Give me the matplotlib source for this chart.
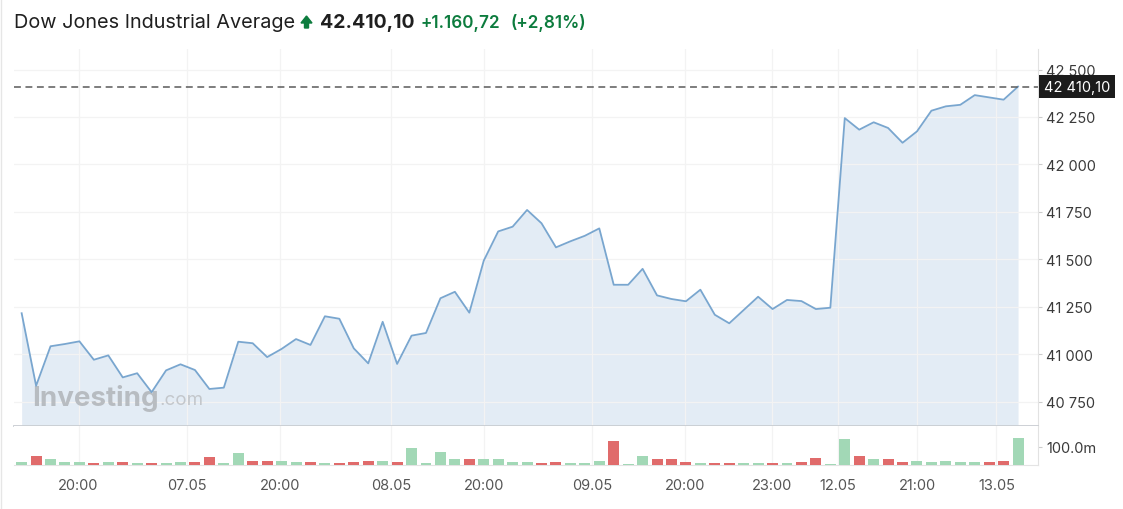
import numpy as np
import matplotlib
matplotlib.use("Agg")
import matplotlib.pyplot as plt
from matplotlib.patches import Polygon
import matplotlib.transforms as mtransforms

plt.rcParams["font.family"] = ["Inter", "DejaVu Sans"]

# ---------------------------------------
# DATA
# ---------------------------------------
prices = [
    41216, 40834, 41042, 41054, 41068, 40971, 40994, 40878, 40900, 40800,
    40915, 40947, 40917, 40817, 40824, 41066, 41058, 40985, 41028, 41080,
    41049, 41200, 41187, 41031, 40952, 41171, 40949, 41098, 41112, 41295,
    41329, 41219, 41493, 41647, 41672, 41760, 41690, 41563, 41595, 41624,
    41663, 41366, 41366, 41450, 41310, 41291, 41279, 41340, 41208, 41163,
    41233, 41303, 41238, 41286, 41280, 41238, 41245, 42244, 42183, 42222,
    42192, 42114, 42174, 42283, 42306, 42314, 42365, 42353, 42341, 42410.10,
]

# volume in millions
volumes = [
    15, 51, 31, 15, 15, 9, 15, 16, 9, 9,
    9, 16, 16, 44, 9, 64, 24, 24, 24, 15,
    16, 9, 9, 15, 24, 24, 16, 93, 9, 71,
    31, 31, 31, 31, 16, 16, 9, 16, 9, 9,
    24, 133, 5, 49, 31, 31, 16, 9, 9, 9,
    9, 9, 9, 9, 16, 38, 4, 140, 51, 31,
    31, 16, 24, 16, 24, 16, 16, 16, 24, 148,
]

time_tick_pos = [3.94, 11.46, 17.9, 25.59, 32.0, 39.49, 45.97, 51.96, 56.5, 62.0, 67.5]
time_tick_labels = ["20:00", "07.05", "20:00", "08.05", "20:00", "09.05",
                    "20:00", "23:00", "12.05", "21:00", "13.05"]

price_ticks = [40750, 41000, 41250, 41500, 41750, 42000, 42250, 42500]

title = "Dow Jones Industrial Average"
last_txt = "42.410,10"
change_txt = "+1.160,72"
pct_txt = "(+2,81%)"
box_txt = "42 410,10"

# ---------------------------------------
# COLORS
# ---------------------------------------
line_col = "#79a6cf"
fill_col = "#e3ecf5"
up_col = "#a2d8b6"
down_col = "#e06b6b"
green_txt = "#0d7c3e"
label_col = "#3a3a3a"

x = np.arange(len(prices))
p = np.array(prices)
diff = np.diff(p, prepend=p[0])
bar_cols = [up_col if d >= 0 else down_col for d in diff]

W, H = 1123, 510
fig = plt.figure(figsize=(W / 100, H / 100), dpi=100)

left = 14 / W
width = (1037.7 - 14) / W
ax = fig.add_axes([left, 83 / H, width, (460 - 83) / H])
axv = fig.add_axes([left, 44 / H, width, 39 / H], sharex=ax)

# ---------------------------------------
# PRICE PANEL
# ---------------------------------------
ax.fill_between(x, p, 40000, color=fill_col, lw=0, zorder=1)
ax.plot(x, p, color=line_col, lw=1.3, zorder=3)
ax.set_ylim(40622, 42608)
ax.set_xlim(-0.53, 70.36)

ax.axhline(p[-1], color="#5a5a5a", lw=1.1, ls=(0, (4.5, 3)), zorder=4)

ax.set_yticks(price_ticks)
ax.set_yticklabels([f"{v:,.0f}".replace(",", " ") for v in price_ticks])
ax.yaxis.tick_right()
ax.tick_params(axis="y", length=3, color="#cccccc", labelsize=10.5,
               labelcolor=label_col, pad=3)
ax.set_xticks(time_tick_pos)
ax.tick_params(axis="x", length=0, labelbottom=False)
ax.grid(True, color="#f3f3f3", lw=0.9, zorder=0)

for s in ["top", "left"]:
    ax.spines[s].set_visible(False)
ax.spines["right"].set_color("#e2e2e2")
ax.spines["bottom"].set_color("#c9cdd2")
ax.spines["bottom"].set_linewidth(1.3)

# last price label box
trans = mtransforms.blended_transform_factory(ax.transAxes, ax.transData)
ax.text(1.006, p[-1], box_txt, transform=trans,
        ha="left", va="center", fontsize=10.5, color="white", zorder=6,
        bbox=dict(boxstyle="square,pad=0.32", fc="#1c1c1c", ec="none"),
        clip_on=False)

# watermark
wm = ax.text(0.018, 0.075, "Investing", transform=ax.transAxes, fontsize=20,
             fontweight="bold", color="#b3b7bc", alpha=0.9, va="center", zorder=2)
fig.canvas.draw()
bb = wm.get_window_extent()
ax.text(bb.x1 + 0.5, bb.y0 + bb.height * 0.42, ".com", transform=None, fontsize=13.5,
        color="#c0c3c7", alpha=0.9, va="center", zorder=2)

# ---------------------------------------
# VOLUME PANEL
# ---------------------------------------
axv.bar(x, volumes, width=0.76, color=bar_cols, zorder=3)
axv.set_ylim(0, 213)
axv.set_yticks([100])
axv.set_yticklabels(["100.0m"])
axv.yaxis.tick_right()
axv.tick_params(axis="y", length=3, color="#cccccc", labelsize=10.5,
                labelcolor=label_col, pad=3)
axv.set_xticks(time_tick_pos)
axv.set_xticklabels(time_tick_labels)
axv.tick_params(axis="x", length=0, labelsize=10.5, labelcolor="#555555", pad=9.5)
axv.grid(True, axis="x", color="#f3f3f3", lw=0.9, zorder=0)
for s in ["top", "left"]:
    axv.spines[s].set_visible(False)
axv.spines["right"].set_color("#e2e2e2")
axv.spines["bottom"].set_color("#e4e4e4")

# ---------------------------------------
# HEADER
# ---------------------------------------
ty = 1 - 23 / H
fig.text(14 / W, ty, title, fontsize=14.3, color="#1f1f1f", va="center")
arrow_pts = [(301, 24), (306.5, 17), (312, 24), (308.5, 24), (308.5, 29),
             (304.5, 29), (304.5, 24)]
arrow = Polygon([(px, H - py) for px, py in arrow_pts], closed=True,
                transform=None, color=green_txt)
fig.patches.append(arrow)
fig.text(320 / W, ty, last_txt, fontsize=14, fontweight="bold",
         color="#1f1f1f", va="center")
fig.text(421 / W, ty, change_txt, fontsize=12.3, fontweight="semibold",
         color=green_txt, va="center")
fig.text(511 / W, ty, pct_txt, fontsize=12.3, fontweight="semibold",
         color=green_txt, va="center")

# thin frame line on the left edge like the screenshot
fig.add_artist(plt.Line2D([0.5 / W, 0.5 / W], [0, 1], transform=fig.transFigure,
                          color="#e6e6e6", lw=1))

fig.savefig("out.png", dpi=100)
